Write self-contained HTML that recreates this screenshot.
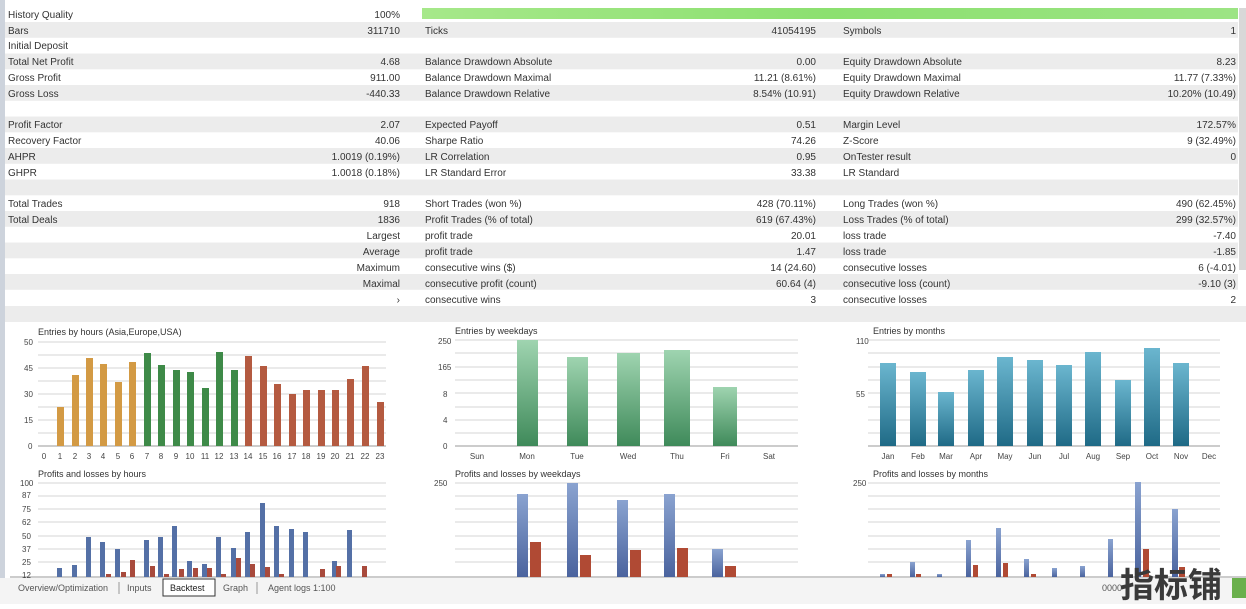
<!DOCTYPE html>
<html><head><meta charset="utf-8"><style>
body{margin:0;width:1246px;height:604px;overflow:hidden;background:#fff;font-family:"Liberation Sans",sans-serif;}
svg text{font-family:"Liberation Sans","Noto Sans CJK SC",sans-serif;}
</style></head><body>
<svg width="1246" height="604" viewBox="0 0 1246 604" xmlns="http://www.w3.org/2000/svg">
<defs>
<linearGradient id="gr" x1="0" y1="0" x2="0" y2="1"><stop offset="0" stop-color="#9fd4b0"/><stop offset="1" stop-color="#3f8a5a"/></linearGradient>
<linearGradient id="tl" x1="0" y1="0" x2="0" y2="1"><stop offset="0" stop-color="#6bb6cf"/><stop offset="1" stop-color="#1f6a86"/></linearGradient>
<linearGradient id="bl" x1="0" y1="0" x2="0" y2="1"><stop offset="0" stop-color="#8aa3d0"/><stop offset="1" stop-color="#4a639e"/></linearGradient>
<linearGradient id="hq" x1="0" y1="0" x2="1" y2="0"><stop offset="0" stop-color="#a6e88a"/><stop offset="0.5" stop-color="#8ce070"/><stop offset="1" stop-color="#9ce484"/></linearGradient>
</defs>
<rect x="0" y="0" width="1246" height="604" fill="#fff"/>
<rect x="0" y="0" width="5" height="604" fill="#cdd3dc"/>
<!-- table stripes -->
<g fill="#ececec">
<rect x="5" y="22" width="1233" height="15.8"/>
<rect x="5" y="53.5" width="1233" height="15.8"/>
<rect x="5" y="85" width="1233" height="15.8"/>
<rect x="5" y="116.5" width="1233" height="15.8"/>
<rect x="5" y="148" width="1233" height="15.8"/>
<rect x="5" y="179.5" width="1233" height="15.8"/>
<rect x="5" y="211" width="1233" height="15.8"/>
<rect x="5" y="242.5" width="1233" height="15.8"/>
<rect x="5" y="274" width="1233" height="15.8"/>
<rect x="5" y="306" width="1241" height="16"/>
</g>
<rect x="422" y="8" width="816" height="11" fill="url(#hq)"/>
<rect x="1239" y="8" width="7" height="262" fill="#d8d8d8"/>
<g font-size="10" fill="#333">
<text x="8" y="18">History Quality</text><text x="400" y="18" text-anchor="end">100%</text>
<text x="8" y="34">Bars</text><text x="400" y="34" text-anchor="end">311710</text><text x="425" y="34">Ticks</text><text x="816" y="34" text-anchor="end">41054195</text><text x="843" y="34">Symbols</text><text x="1236" y="34" text-anchor="end">1</text>
<text x="8" y="49">Initial Deposit</text>
<text x="8" y="65">Total Net Profit</text><text x="400" y="65" text-anchor="end">4.68</text><text x="425" y="65">Balance Drawdown Absolute</text><text x="816" y="65" text-anchor="end">0.00</text><text x="843" y="65">Equity Drawdown Absolute</text><text x="1236" y="65" text-anchor="end">8.23</text>
<text x="8" y="81">Gross Profit</text><text x="400" y="81" text-anchor="end">911.00</text><text x="425" y="81">Balance Drawdown Maximal</text><text x="816" y="81" text-anchor="end">11.21 (8.61%)</text><text x="843" y="81">Equity Drawdown Maximal</text><text x="1236" y="81" text-anchor="end">11.77 (7.33%)</text>
<text x="8" y="97">Gross Loss</text><text x="400" y="97" text-anchor="end">-440.33</text><text x="425" y="97">Balance Drawdown Relative</text><text x="816" y="97" text-anchor="end">8.54% (10.91)</text><text x="843" y="97">Equity Drawdown Relative</text><text x="1236" y="97" text-anchor="end">10.20% (10.49)</text>
<text x="8" y="128">Profit Factor</text><text x="400" y="128" text-anchor="end">2.07</text><text x="425" y="128">Expected Payoff</text><text x="816" y="128" text-anchor="end">0.51</text><text x="843" y="128">Margin Level</text><text x="1236" y="128" text-anchor="end">172.57%</text>
<text x="8" y="144">Recovery Factor</text><text x="400" y="144" text-anchor="end">40.06</text><text x="425" y="144">Sharpe Ratio</text><text x="816" y="144" text-anchor="end">74.26</text><text x="843" y="144">Z-Score</text><text x="1236" y="144" text-anchor="end">9 (32.49%)</text>
<text x="8" y="160">AHPR</text><text x="400" y="160" text-anchor="end">1.0019 (0.19%)</text><text x="425" y="160">LR Correlation</text><text x="816" y="160" text-anchor="end">0.95</text><text x="843" y="160">OnTester result</text><text x="1236" y="160" text-anchor="end">0</text>
<text x="8" y="176">GHPR</text><text x="400" y="176" text-anchor="end">1.0018 (0.18%)</text><text x="425" y="176">LR Standard Error</text><text x="816" y="176" text-anchor="end">33.38</text><text x="843" y="176">LR Standard</text>
<text x="8" y="207">Total Trades</text><text x="400" y="207" text-anchor="end">918</text><text x="425" y="207">Short Trades (won %)</text><text x="816" y="207" text-anchor="end">428 (70.11%)</text><text x="843" y="207">Long Trades (won %)</text><text x="1236" y="207" text-anchor="end">490 (62.45%)</text>
<text x="8" y="223">Total Deals</text><text x="400" y="223" text-anchor="end">1836</text><text x="425" y="223">Profit Trades (% of total)</text><text x="816" y="223" text-anchor="end">619 (67.43%)</text><text x="843" y="223">Loss Trades (% of total)</text><text x="1236" y="223" text-anchor="end">299 (32.57%)</text>
<text x="400" y="239" text-anchor="end">Largest</text><text x="425" y="239">profit trade</text><text x="816" y="239" text-anchor="end">20.01</text><text x="843" y="239">loss trade</text><text x="1236" y="239" text-anchor="end">-7.40</text>
<text x="400" y="255" text-anchor="end">Average</text><text x="425" y="255">profit trade</text><text x="816" y="255" text-anchor="end">1.47</text><text x="843" y="255">loss trade</text><text x="1236" y="255" text-anchor="end">-1.85</text>
<text x="400" y="271" text-anchor="end">Maximum</text><text x="425" y="271">consecutive wins ($)</text><text x="816" y="271" text-anchor="end">14 (24.60)</text><text x="843" y="271">consecutive losses</text><text x="1236" y="271" text-anchor="end">6 (-4.01)</text>
<text x="400" y="287" text-anchor="end">Maximal</text><text x="425" y="287">consecutive profit (count)</text><text x="816" y="287" text-anchor="end">60.64 (4)</text><text x="843" y="287">consecutive loss (count)</text><text x="1236" y="287" text-anchor="end">-9.10 (3)</text>
<text x="400" y="303" text-anchor="end">&#8250;</text><text x="425" y="303">consecutive wins</text><text x="816" y="303" text-anchor="end">3</text><text x="843" y="303">consecutive losses</text><text x="1236" y="303" text-anchor="end">2</text>
</g>
<!-- chart grids -->
<g stroke="#d4d4d4" stroke-width="1">
<line x1="38" y1="342" x2="386" y2="342"/><line x1="38" y1="355" x2="386" y2="355"/><line x1="38" y1="368" x2="386" y2="368"/><line x1="38" y1="381" x2="386" y2="381"/><line x1="38" y1="394" x2="386" y2="394"/><line x1="38" y1="407" x2="386" y2="407"/><line x1="38" y1="420" x2="386" y2="420"/><line x1="38" y1="433" x2="386" y2="433"/>
<line x1="455" y1="340" x2="798" y2="340"/><line x1="455" y1="353" x2="798" y2="353"/><line x1="455" y1="367" x2="798" y2="367"/><line x1="455" y1="380" x2="798" y2="380"/><line x1="455" y1="393" x2="798" y2="393"/><line x1="455" y1="407" x2="798" y2="407"/><line x1="455" y1="420" x2="798" y2="420"/><line x1="455" y1="433" x2="798" y2="433"/>
<line x1="868" y1="340" x2="1220" y2="340"/><line x1="868" y1="353" x2="1220" y2="353"/><line x1="868" y1="367" x2="1220" y2="367"/><line x1="868" y1="380" x2="1220" y2="380"/><line x1="868" y1="393" x2="1220" y2="393"/><line x1="868" y1="407" x2="1220" y2="407"/><line x1="868" y1="420" x2="1220" y2="420"/><line x1="868" y1="433" x2="1220" y2="433"/>
<line x1="38" y1="483" x2="386" y2="483"/><line x1="38" y1="496" x2="386" y2="496"/><line x1="38" y1="509" x2="386" y2="509"/><line x1="38" y1="522" x2="386" y2="522"/><line x1="38" y1="536" x2="386" y2="536"/><line x1="38" y1="549" x2="386" y2="549"/><line x1="38" y1="562" x2="386" y2="562"/>
<line x1="455" y1="483" x2="798" y2="483"/><line x1="455" y1="496" x2="798" y2="496"/><line x1="455" y1="509" x2="798" y2="509"/><line x1="455" y1="522" x2="798" y2="522"/><line x1="455" y1="536" x2="798" y2="536"/><line x1="455" y1="549" x2="798" y2="549"/><line x1="455" y1="562" x2="798" y2="562"/>
<line x1="868" y1="483" x2="1220" y2="483"/><line x1="868" y1="496" x2="1220" y2="496"/><line x1="868" y1="509" x2="1220" y2="509"/><line x1="868" y1="522" x2="1220" y2="522"/><line x1="868" y1="536" x2="1220" y2="536"/><line x1="868" y1="549" x2="1220" y2="549"/><line x1="868" y1="562" x2="1220" y2="562"/>
</g>
<g stroke="#999"><line x1="38" y1="446" x2="386" y2="446"/><line x1="455" y1="446" x2="798" y2="446"/><line x1="868" y1="446" x2="1220" y2="446"/><line x1="10" y1="577" x2="1246" y2="577"/></g>
<g font-size="9" fill="#333">
<text x="38" y="335">Entries by hours (Asia,Europe,USA)</text>
<text x="455" y="334">Entries by weekdays</text>
<text x="873" y="334">Entries by months</text>
<text x="38" y="477">Profits and losses by hours</text>
<text x="455" y="477">Profits and losses by weekdays</text>
<text x="873" y="477">Profits and losses by months</text>
</g>
<g font-size="8" fill="#444">
<text x="24" y="345">50</text><text x="24" y="371">45</text><text x="24" y="397">30</text><text x="24" y="423">15</text><text x="28" y="449">0</text>
<text x="438" y="344">250</text><text x="438" y="370">165</text><text x="443" y="397">8</text><text x="443" y="423">4</text><text x="443" y="449">0</text>
<text x="856" y="344">110</text><text x="856" y="397">55</text>
<text x="20" y="486">100</text><text x="22" y="498">87</text><text x="22" y="512">75</text><text x="22" y="525">62</text><text x="22" y="539">50</text><text x="22" y="552">37</text><text x="22" y="565">25</text><text x="22" y="578">12</text>
<text x="434" y="486">250</text><text x="853" y="486">250</text>
</g>
<g font-size="8" fill="#444" text-anchor="middle">
<text x="44" y="459">0</text><text x="60" y="459">1</text><text x="75" y="459">2</text><text x="89" y="459">3</text><text x="103" y="459">4</text><text x="118" y="459">5</text><text x="132" y="459">6</text><text x="147" y="459">7</text><text x="161" y="459">8</text><text x="176" y="459">9</text><text x="190" y="459">10</text><text x="205" y="459">11</text><text x="219" y="459">12</text><text x="234" y="459">13</text><text x="248" y="459">14</text><text x="263" y="459">15</text><text x="277" y="459">16</text><text x="292" y="459">17</text><text x="306" y="459">18</text><text x="321" y="459">19</text><text x="335" y="459">20</text><text x="350" y="459">21</text><text x="365" y="459">22</text><text x="380" y="459">23</text>
<text x="477" y="459">Sun</text><text x="527" y="459">Mon</text><text x="577" y="459">Tue</text><text x="628" y="459">Wed</text><text x="677" y="459">Thu</text><text x="725" y="459">Fri</text><text x="769" y="459">Sat</text>
<text x="888" y="459">Jan</text><text x="918" y="459">Feb</text><text x="946" y="459">Mar</text><text x="976" y="459">Apr</text><text x="1005" y="459">May</text><text x="1035" y="459">Jun</text><text x="1064" y="459">Jul</text><text x="1093" y="459">Aug</text><text x="1123" y="459">Sep</text><text x="1152" y="459">Oct</text><text x="1181" y="459">Nov</text><text x="1209" y="459">Dec</text>
</g>
<!-- hourly entries -->
<g fill="#d39a44"><rect x="57" y="407" width="7" height="39"/><rect x="72" y="375" width="7" height="71"/><rect x="86" y="358" width="7" height="88"/><rect x="100" y="364" width="7" height="82"/><rect x="115" y="382" width="7" height="64"/><rect x="129" y="362" width="7" height="84"/></g>
<g fill="#3e8a48"><rect x="144" y="353" width="7" height="93"/><rect x="158" y="365" width="7" height="81"/><rect x="173" y="370" width="7" height="76"/><rect x="187" y="372" width="7" height="74"/><rect x="202" y="388" width="7" height="58"/><rect x="216" y="352" width="7" height="94"/><rect x="231" y="370" width="7" height="76"/></g>
<g fill="#b45a40"><rect x="245" y="356" width="7" height="90"/><rect x="260" y="366" width="7" height="80"/><rect x="274" y="384" width="7" height="62"/><rect x="289" y="394" width="7" height="52"/><rect x="303" y="390" width="7" height="56"/><rect x="318" y="390" width="7" height="56"/><rect x="332" y="390" width="7" height="56"/><rect x="347" y="379" width="7" height="67"/><rect x="362" y="366" width="7" height="80"/><rect x="377" y="402" width="7" height="44"/></g>
<!-- weekday entries -->
<g fill="url(#gr)"><rect x="517" y="340" width="21" height="106"/><rect x="567" y="357" width="21" height="89"/><rect x="617" y="353" width="23" height="93"/><rect x="664" y="350" width="26" height="96"/><rect x="713" y="387" width="24" height="59"/></g>
<!-- month entries -->
<g fill="url(#tl)"><rect x="880" y="363" width="16" height="83"/><rect x="910" y="372" width="16" height="74"/><rect x="938" y="392" width="16" height="54"/><rect x="968" y="370" width="16" height="76"/><rect x="997" y="357" width="16" height="89"/><rect x="1027" y="360" width="16" height="86"/><rect x="1056" y="365" width="16" height="81"/><rect x="1085" y="352" width="16" height="94"/><rect x="1115" y="380" width="16" height="66"/><rect x="1144" y="348" width="16" height="98"/><rect x="1173" y="363" width="16" height="83"/></g>
<!-- profits by hour -->
<g fill="#5470a6"><rect x="57" y="568" width="5" height="9"/><rect x="72" y="565" width="5" height="12"/><rect x="86" y="537" width="5" height="40"/><rect x="100" y="542" width="5" height="35"/><rect x="115" y="549" width="5" height="28"/><rect x="144" y="540" width="5" height="37"/><rect x="158" y="537" width="5" height="40"/><rect x="172" y="526" width="5" height="51"/><rect x="187" y="561" width="5" height="16"/><rect x="202" y="564" width="5" height="13"/><rect x="216" y="537" width="5" height="40"/><rect x="231" y="548" width="5" height="29"/><rect x="245" y="532" width="5" height="45"/><rect x="260" y="503" width="5" height="74"/><rect x="274" y="526" width="5" height="51"/><rect x="289" y="529" width="5" height="48"/><rect x="303" y="532" width="5" height="45"/><rect x="332" y="561" width="5" height="16"/><rect x="347" y="530" width="5" height="47"/></g>
<g fill="#a84a3c"><rect x="106" y="574" width="5" height="3"/><rect x="121" y="572" width="5" height="5"/><rect x="130" y="560" width="5" height="17"/><rect x="150" y="566" width="5" height="11"/><rect x="164" y="574" width="5" height="3"/><rect x="179" y="569" width="5" height="8"/><rect x="193" y="568" width="5" height="9"/><rect x="207" y="568" width="5" height="9"/><rect x="221" y="574" width="5" height="3"/><rect x="236" y="558" width="5" height="19"/><rect x="250" y="564" width="5" height="13"/><rect x="265" y="567" width="5" height="10"/><rect x="279" y="574" width="5" height="3"/><rect x="320" y="569" width="5" height="8"/><rect x="336" y="566" width="5" height="11"/><rect x="362" y="566" width="5" height="11"/></g>
<!-- profits by weekday -->
<g fill="url(#bl)"><rect x="517" y="494" width="11" height="83"/><rect x="567" y="483" width="11" height="94"/><rect x="617" y="500" width="11" height="77"/><rect x="664" y="494" width="11" height="83"/><rect x="712" y="549" width="11" height="28"/></g>
<g fill="#b04a34"><rect x="530" y="542" width="11" height="35"/><rect x="580" y="555" width="11" height="22"/><rect x="630" y="550" width="11" height="27"/><rect x="677" y="548" width="11" height="29"/><rect x="725" y="566" width="11" height="11"/></g>
<!-- profits by month -->
<g fill="url(#bl)"><rect x="880" y="574" width="5" height="3"/><rect x="910" y="562" width="5" height="15"/><rect x="937" y="574" width="5" height="3"/><rect x="966" y="540" width="5" height="37"/><rect x="996" y="528" width="5" height="49"/><rect x="1024" y="559" width="5" height="18"/><rect x="1052" y="568" width="5" height="9"/><rect x="1080" y="566" width="5" height="11"/><rect x="1108" y="539" width="5" height="38"/><rect x="1135" y="482" width="6" height="95"/><rect x="1172" y="509" width="6" height="68"/></g>
<g fill="#b04a34"><rect x="887" y="574" width="5" height="3"/><rect x="916" y="574" width="5" height="3"/><rect x="973" y="565" width="5" height="12"/><rect x="1003" y="563" width="5" height="14"/><rect x="1031" y="574" width="5" height="3"/><rect x="1143" y="549" width="6" height="28"/><rect x="1179" y="567" width="6" height="10"/></g>
<!-- bottom tabs -->
<rect x="0" y="578" width="1246" height="26" fill="#f4f4f4"/>
<rect x="163" y="579" width="52" height="17" fill="#fff" stroke="#333" stroke-width="1"/>
<g font-size="9" fill="#555">
<text x="18" y="591">Overview/Optimization</text><text x="127" y="591">Inputs</text><text x="170" y="591" fill="#222">Backtest</text><text x="223" y="591">Graph</text><text x="268" y="591">Agent logs  1:100</text>
<text x="1102" y="591">0000</text>
</g>
<g stroke="#999"><line x1="119" y1="582" x2="119" y2="594"/><line x1="257" y1="582" x2="257" y2="594"/></g>
<rect x="1232" y="578" width="14" height="20" fill="#6ab04c"/>
<text x="1120" y="597" font-size="34" font-weight="bold" fill="#3a3a3a" style="font-family:'Noto Sans CJK SC','WenQuanYi Zen Hei',sans-serif">指标铺</text>
</svg>
</body></html>
